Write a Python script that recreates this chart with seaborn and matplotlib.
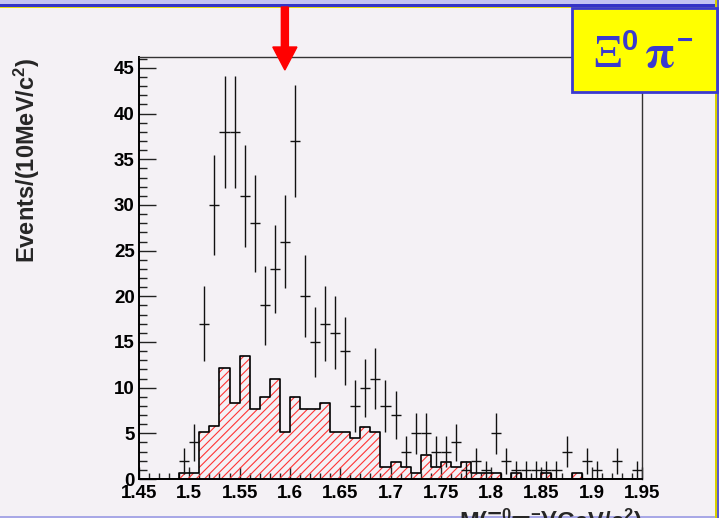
import numpy as np
import pandas as pd
import matplotlib
matplotlib.use("Agg")
import matplotlib.pyplot as plt
import matplotlib.transforms as mtransforms
from matplotlib.patches import Rectangle, FancyArrow
from matplotlib.ticker import MultipleLocator, FuncFormatter
import seaborn as sns

# 10 MeV/c^2 bins between 1.45 and 1.95 GeV/c^2
bin_edges = [round(1.45 + 0.01 * i, 3) for i in range(51)]
bin_centers = [round(e + 0.005, 3) for e in bin_edges[:-1]]

# Observed Xi0 pi- candidates per bin
data_counts = [0, 0, 0, 0, 2, 4, 17, 30, 38, 38,
               31, 28, 19, 23, 26, 37, 20, 15, 17, 16,
               14, 8, 10, 11, 8, 7, 3, 5, 5, 3,
               3, 4, 1, 2, 1, 5, 2, 1, 1, 1,
               1, 1, 3, 0, 2, 1, 0, 2, 0, 1]

# Scaled sideband background per bin
bkg_counts = [0, 0, 0, 0, 0.64, 0.64, 5.15, 5.8, 12.2, 8.3,
              13.5, 7.7, 9.0, 10.9, 5.15, 9.0, 7.7, 7.7, 8.3, 5.15,
              5.15, 4.45, 5.7, 5.15, 1.28, 1.9, 1.28, 0.64, 2.6, 1.28,
              1.9, 1.28, 1.9, 0.64, 0.64, 0.64, 0, 0.64, 0, 0,
              0.64, 0, 0, 0.64, 0, 0, 0, 0, 0, 0]

marker_mass = 1.595
x_ticks = [1.45, 1.5, 1.55, 1.6, 1.65, 1.7, 1.75, 1.8, 1.85, 1.9, 1.95]
y_ticks = [0, 5, 10, 15, 20, 25, 30, 35, 40, 45]

BG = "#f4f1f5"
BLUE = "#3a3acf"

sns.set_style("ticks")
plt.rcParams["font.family"] = ["Liberation Sans", "DejaVu Sans"]
plt.rcParams["font.weight"] = "bold"
plt.rcParams["mathtext.fontset"] = "custom"
plt.rcParams["mathtext.rm"] = "Liberation Sans:bold"
plt.rcParams["mathtext.it"] = "Liberation Sans:bold"
plt.rcParams["mathtext.bf"] = "Liberation Sans:bold"
plt.rcParams["mathtext.default"] = "rm"
plt.rcParams["hatch.linewidth"] = 0.8

W, H = 719, 518


def fig_xy(x, y):
    """Pixel position measured from the top-left corner -> figure fraction."""
    return x / W, 1 - y / H


fig = plt.figure(figsize=(W / 100, H / 100), dpi=100, facecolor=BG)
ax = fig.add_axes([139 / W, 1 - 479 / H, 503 / W, 422 / H])
ax.set_facecolor(BG)

df = pd.DataFrame({"mass": bin_centers, "data": data_counts, "bkg": bkg_counts})

# hatched background histogram
sns.histplot(data=df, x="mass", weights="bkg", bins=bin_edges, element="step",
             fill=True, color="red", alpha=1, linewidth=0, ax=ax)
poly = ax.collections[-1]
poly.set_facecolor("none")
poly.set_edgecolor("#ff3434")
poly.set_linewidth(0)
poly.set_hatch("////")
sns.histplot(data=df, x="mass", weights="bkg", bins=bin_edges, element="step",
             fill=False, color="black", linewidth=1.2, ax=ax)

# data points with Poisson errors
nz = df[df["data"] > 0]
ax.errorbar(nz["mass"], nz["data"], xerr=0.005, yerr=np.sqrt(nz["data"]),
            fmt="none", ecolor="#111111", elinewidth=1.0, capsize=0, zorder=5)

ax.set_xlim(1.45, 1.95)
ax.set_ylim(0, 46.2)
ax.set_xlabel("")
ax.set_ylabel("")
ax.set_xticks(x_ticks)
ax.set_yticks(y_ticks)
ax.xaxis.set_minor_locator(MultipleLocator(0.01))
ax.yaxis.set_minor_locator(MultipleLocator(1))
ax.xaxis.set_major_formatter(FuncFormatter(lambda v, p: f"{v:g}"))
ax.yaxis.set_major_formatter(FuncFormatter(lambda v, p: f"{v:g}"))
ax.tick_params(axis="both", which="both", direction="in", colors="#222222",
               width=1.0, labelsize=13.5, labelcolor="black")
ax.tick_params(axis="y", which="major", length=12.5, pad=3)
ax.tick_params(axis="y", which="minor", length=6)
ax.tick_params(axis="x", which="major", length=9, pad=4)
ax.tick_params(axis="x", which="minor", length=4.5)
for lab in ax.get_xticklabels() + ax.get_yticklabels():
    lab.set_fontweight("bold")

for side in ["left", "bottom"]:
    ax.spines[side].set_linewidth(1.4)
    ax.spines[side].set_color("black")
for side in ["top", "right"]:
    ax.spines[side].set_linewidth(1.0)
    ax.spines[side].set_color("#333333")
    ax.spines[side].set_visible(True)

# axis titles
fig.text(*fig_xy(27, 160), r"Events/(10MeV/c$^{2}$)", rotation=90,
         ha="center", va="center", fontsize=17, fontweight="bold")
fig.text(*fig_xy(642, 507), r"M($\Xi^{0}\pi^{-}$)(GeV/c$^{2}$)",
         ha="right", va="top", fontsize=17, fontweight="bold")

# arrow marking the mass position
blend = mtransforms.blended_transform_factory(ax.transData, fig.transFigure)
fig.patches.append(FancyArrow(marker_mass, 1 - 7 / H, 0, -(63 / H), width=0.007,
                              head_width=0.024, head_length=23 / H,
                              length_includes_head=True, color="red",
                              transform=blend, figure=fig, zorder=10))

# slide frame
fig.patches.append(Rectangle((0, 1 - 4 / H), 1, 4 / H, transform=fig.transFigure,
                             facecolor="#c4c4f2", edgecolor="none", figure=fig))
fig.patches.append(Rectangle((0, 1 - 7 / H), 1, 3 / H, transform=fig.transFigure,
                             facecolor="#3434c6", edgecolor="none", figure=fig))
fig.patches.append(Rectangle((0, 1 - 8 / H), 1, 1 / H, transform=fig.transFigure,
                             facecolor="#e6dc10", edgecolor="none", figure=fig))
fig.patches.append(Rectangle((0, 0), 1, 2.5 / H, transform=fig.transFigure,
                             facecolor="#a8a8e6", edgecolor="none", figure=fig))
fig.patches.append(Rectangle((715 / W, 0), 1.5 / W, 1, transform=fig.transFigure,
                             facecolor="#d8d000", edgecolor="none", figure=fig))
fig.patches.append(Rectangle((716.5 / W, 0), 2.5 / W, 1, transform=fig.transFigure,
                             facecolor="#5a5ad0", edgecolor="none", figure=fig))

# channel label box: Xi^0 pi^-
fig.patches.append(Rectangle(fig_xy(572, 92), 145 / W, 84 / H,
                             transform=fig.transFigure, facecolor="#ffff00",
                             edgecolor=BLUE, linewidth=2, figure=fig, zorder=11))
serif = dict(family="Liberation Serif", fontweight="normal", color=BLUE, zorder=12)
sans = dict(family="Liberation Sans", fontweight="bold", color=BLUE, zorder=12)
fig.text(*fig_xy(592, 67), "\u039e", ha="left", va="baseline", fontsize=34, **serif)
fig.text(*fig_xy(622, 50), "0", ha="left", va="baseline", fontsize=21, **sans)
fig.text(*fig_xy(644, 67), r"$\pi$", ha="left", va="baseline", fontsize=34,
         math_fontfamily="stix", **serif)
fig.text(*fig_xy(677, 42), "\u2212", ha="left", va="center", fontsize=20, **sans)

fig.savefig("out.png", dpi=100, facecolor=BG)
